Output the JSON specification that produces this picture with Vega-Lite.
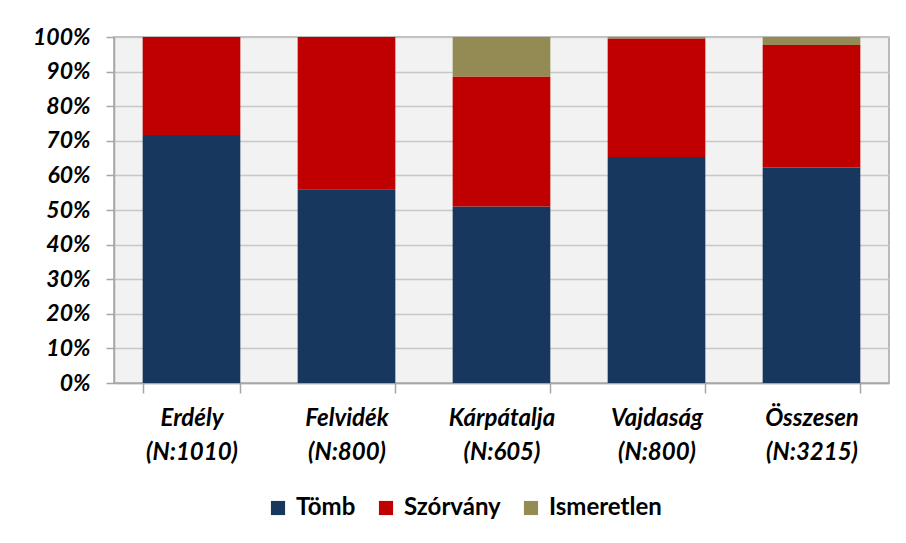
{
  "$schema": "https://vega.github.io/schema/vega-lite/v6.json",
  "width": 775,
  "height": 346,
  "autosize": {"type": "none"},
  "padding": {"left": 114, "top": 37, "right": 17, "bottom": 160},
  "background": "white",
  "data": {
    "values": [
      {"region": "Erdély\n(N:1010)", "cat": "Tömb", "ord": 1, "v": 71.7},
      {"region": "Erdély\n(N:1010)", "cat": "Szórvány", "ord": 2, "v": 28.3},
      {"region": "Erdély\n(N:1010)", "cat": "Ismeretlen", "ord": 3, "v": 0},
      {"region": "Felvidék\n(N:800)", "cat": "Tömb", "ord": 1, "v": 56},
      {"region": "Felvidék\n(N:800)", "cat": "Szórvány", "ord": 2, "v": 44},
      {"region": "Felvidék\n(N:800)", "cat": "Ismeretlen", "ord": 3, "v": 0},
      {"region": "Kárpátalja\n(N:605)", "cat": "Tömb", "ord": 1, "v": 51},
      {"region": "Kárpátalja\n(N:605)", "cat": "Szórvány", "ord": 2, "v": 37.6},
      {"region": "Kárpátalja\n(N:605)", "cat": "Ismeretlen", "ord": 3, "v": 11.4},
      {"region": "Vajdaság\n(N:800)", "cat": "Tömb", "ord": 1, "v": 65.3},
      {"region": "Vajdaság\n(N:800)", "cat": "Szórvány", "ord": 2, "v": 34.3},
      {"region": "Vajdaság\n(N:800)", "cat": "Ismeretlen", "ord": 3, "v": 0.4},
      {"region": "Összesen\n(N:3215)", "cat": "Tömb", "ord": 1, "v": 62.3},
      {"region": "Összesen\n(N:3215)", "cat": "Szórvány", "ord": 2, "v": 35.4},
      {"region": "Összesen\n(N:3215)", "cat": "Ismeretlen", "ord": 3, "v": 2.3}
    ]
  },
  "mark": {"type": "bar"},
  "encoding": {
    "x": {
      "field": "region",
      "type": "nominal",
      "sort": null,
      "title": null,
      "scale": {"paddingInner": 0.37, "paddingOuter": 0.185},
      "axis": {
        "labelAngle": 0,
        "labelExpr": "split(datum.label, '\\n')",
        "labelFont": "Lato",
        "labelFontSize": 24,
        "labelFontWeight": "bold",
        "labelFontStyle": "italic",
        "labelColor": "#000000",
        "labelLineHeight": 34,
        "labelPadding": 13,
        "tickBand": "extent",
        "tickSize": 10,
        "tickColor": "#a6a6a6",
        "tickWidth": 1.5,
        "domainColor": "#a6a6a6",
        "domainWidth": 1.5,
        "grid": false
      }
    },
    "y": {
      "field": "v",
      "type": "quantitative",
      "stack": "normalize",
      "title": null,
      "scale": {"domain": [0, 1]},
      "axis": {
        "format": ".0%",
        "values": [0, 0.1, 0.2, 0.3, 0.4, 0.5, 0.6, 0.7, 0.8, 0.9, 1],
        "labelFont": "Lato",
        "labelFontSize": 23,
        "labelFontWeight": "bold",
        "labelFontStyle": "italic",
        "labelColor": "#000000",
        "labelPadding": 16,
        "tickSize": 8,
        "tickColor": "#a6a6a6",
        "tickWidth": 1.5,
        "domainColor": "#a6a6a6",
        "domainWidth": 1.5,
        "grid": true,
        "gridColor": "#c8c8c8",
        "gridWidth": 1.5
      }
    },
    "color": {
      "field": "cat",
      "type": "nominal",
      "sort": ["Tömb", "Szórvány", "Ismeretlen"],
      "scale": {"domain": ["Tömb", "Szórvány", "Ismeretlen"], "range": ["#17375e", "#c00000", "#948a54"]},
      "legend": {
        "title": null,
        "orient": "none",
        "direction": "horizontal",
        "legendX": 152,
        "legendY": 459,
        "symbolType": "square",
        "symbolSize": 200,
        "symbolStrokeWidth": 0,
        "labelFont": "Lato",
        "labelFontSize": 24,
        "labelFontWeight": "bold",
        "labelColor": "#000000",
        "labelOffset": 6,
        "columnPadding": 18
      }
    },
    "order": {"field": "ord", "type": "quantitative"}
  },
  "config": {
    "view": {"fill": "#f2f2f2", "stroke": "#a6a6a6", "strokeWidth": 1.5}
  }
}
